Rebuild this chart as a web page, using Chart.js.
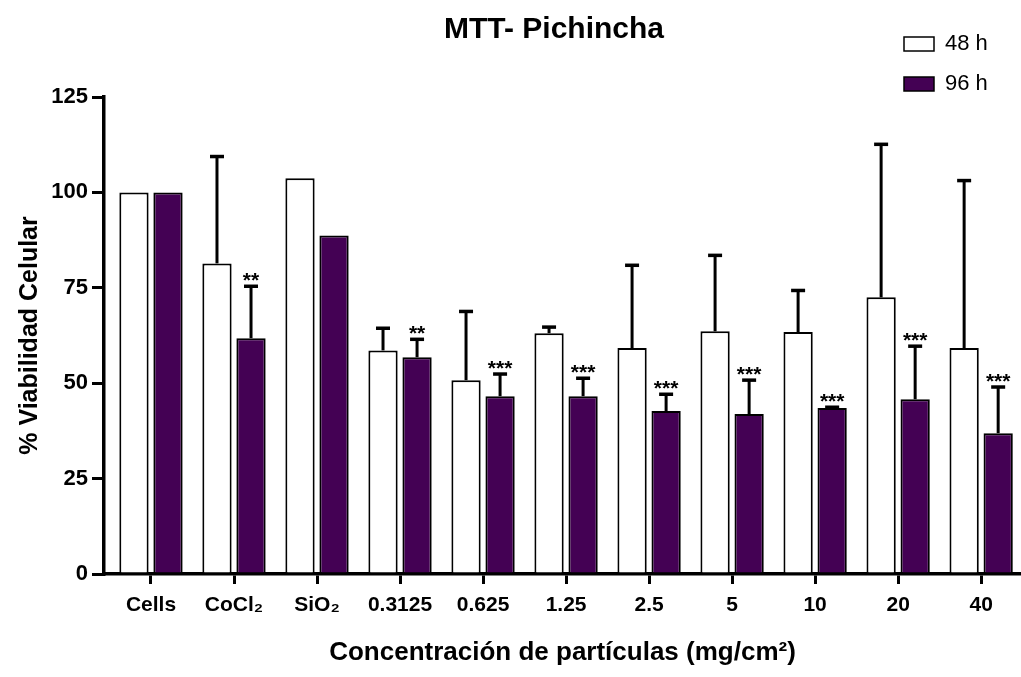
<!DOCTYPE html>
<html>
<head>
<meta charset="utf-8">
<script src="https://cdn.jsdelivr.net/npm/chart.js@4/dist/chart.umd.min.js"></script>
<style>
  body { margin: 0; background: #fff; }
  #wrap { width: 1021px; height: 677px; position: relative; }
</style>
</head>
<body>
<div id="wrap"><canvas id="chartCanvas"></canvas></div>
<script>
const categories = ['Cells', 'CoCl\u2082', 'SiO\u2082', '0.3125', '0.625', '1.25', '2.5', '5', '10', '20', '40'];
const mean48 = [100, 81.4, 103.7, 58.6, 50.8, 63.1, 59.2, 63.6, 63.4, 72.5, 59.2];
const err48 = [0, 28.0, 0, 5.8, 18.0, 1.6, 21.7, 19.9, 10.9, 40.1, 43.9];
const mean96 = [100, 61.8, 88.7, 56.8, 46.6, 46.6, 42.7, 41.9, 43.5, 45.8, 36.9];
const err96 = [0, 13.6, 0, 4.7, 5.8, 4.7, 4.4, 8.9, 0.2, 13.9, 12.1];
const sig96 = ['', '**', '', '**', '***', '***', '***', '***', '***', '***', '***'];
const yTicks = [0, 25, 50, 75, 100, 125];

const FONT = 'Liberation Sans, Arial, sans-serif';
const purple = '#440154';

// upward-only error bars, GraphPad style
const errorBars = {
  id: 'errorBars',
  afterDatasetsDraw(chart) {
    const ctx = chart.ctx;
    const y = chart.scales.y;
    const errs = [err48, err96];
    const means = [mean48, mean96];
    ctx.save();
    ctx.strokeStyle = '#000';
    chart.data.datasets.forEach((ds, d) => {
      chart.getDatasetMeta(d).data.forEach((bar, i) => {
        const e = errs[d][i];
        if (!e) return;
        const top = y.getPixelForValue(means[d][i] + e);
        ctx.lineWidth = 3;
        ctx.beginPath();
        ctx.moveTo(bar.x, bar.y);
        ctx.lineTo(bar.x, top);
        ctx.stroke();
        ctx.lineWidth = 3.5;
        ctx.beginPath();
        ctx.moveTo(bar.x - 7, top);
        ctx.lineTo(bar.x + 7, top);
        ctx.stroke();
      });
    });
    // significance marks over the 96 h bars
    ctx.fillStyle = '#000';
    ctx.font = 'bold 21px ' + FONT;
    ctx.textAlign = 'center';
    ctx.textBaseline = 'alphabetic';
    chart.getDatasetMeta(1).data.forEach((bar, i) => {
      if (!sig96[i]) return;
      const top = y.getPixelForValue(mean96[i] + err96[i]);
      ctx.fillText(sig96[i], bar.x, top + 1);
    });
    ctx.restore();
  }
};

// title and legend drawn by hand to keep the GraphPad placement
const extras = {
  id: 'extras',
  afterDraw(chart) {
    const ctx = chart.ctx;
    ctx.save();
    ctx.fillStyle = '#000';
    ctx.font = 'bold 30px ' + FONT;
    ctx.textAlign = 'center';
    ctx.textBaseline = 'middle';
    ctx.fillText('MTT- Pichincha', 554, 30);

    ctx.font = '22px ' + FONT;
    ctx.textAlign = 'left';
    chart.data.datasets.forEach((ds, d) => {
      const yy = 44 + d * 40;
      ctx.fillStyle = ds.backgroundColor;
      ctx.fillRect(904, yy - 7, 30, 14);
      ctx.lineWidth = 1.5;
      ctx.strokeStyle = '#000';
      ctx.strokeRect(904, yy - 7, 30, 14);
      ctx.fillStyle = '#000';
      ctx.fillText(ds.label, 945, yy);
    });
    ctx.restore();
  }
};

const ctx = document.getElementById('chartCanvas').getContext('2d');

new Chart(ctx, {
  type: 'bar',
  data: {
    datasets: [{
      label: '48 h',
      data: mean48.map((v, i) => ({ x: i, y: v })),
      backgroundColor: '#ffffff',
      borderColor: '#000',
      borderWidth: 2
    }, {
      label: '96 h',
      data: mean96.map((v, i) => ({ x: i, y: v })),
      backgroundColor: purple,
      borderColor: '#000',
      borderWidth: 2
    }]
  },
  options: {
    responsive: true,
    maintainAspectRatio: false,
    animation: false,
    categoryPercentage: 0.82,
    barPercentage: 0.86,
    layout: { padding: { left: 0, top: 97, right: 0, bottom: 0 } },
    plugins: {
      legend: { display: false },
      tooltip: { enabled: false }
    },
    scales: {
      x: {
        type: 'linear',
        min: -0.566,
        max: 10.48,
        offset: false,
        afterFit: s => { s.height = 103; },
        afterBuildTicks: s => { s.ticks = categories.map((c, i) => ({ value: i })); },
        border: { color: '#000', width: 3.5 },
        grid: { offset: false, drawOnChartArea: false, drawTicks: true, tickLength: 10, color: '#000', lineWidth: 3 },
        ticks: {
          color: '#000',
          padding: 9,
          maxRotation: 0,
          autoSkip: false,
          font: { family: FONT, size: 21, weight: 'bold' },
          callback: v => categories[v]
        },
        title: {
          display: true,
          text: 'Concentración de partículas (mg/cm²)',
          color: '#000',
          font: { family: FONT, size: 26, weight: 'bold' },
          padding: { top: 0, bottom: 9 }
        }
      },
      y: {
        min: 0,
        max: 125,
        afterFit: s => { s.width = 104; },
        afterBuildTicks: s => { s.ticks = yTicks.map(v => ({ value: v })); },
        border: { color: '#000', width: 3.5 },
        grid: { drawOnChartArea: false, drawTicks: true, tickLength: 12, color: '#000', lineWidth: 3 },
        ticks: {
          color: '#000',
          padding: 4,
          font: { family: FONT, size: 22, weight: 'bold' }
        },
        title: {
          display: true,
          text: '% Viabilidad Celular',
          color: '#000',
          font: { family: FONT, size: 25, weight: 'bold' },
          padding: { top: 15, bottom: 0 }
        }
      }
    }
  },
  plugins: [errorBars, extras]
});
</script>
</body>
</html>
